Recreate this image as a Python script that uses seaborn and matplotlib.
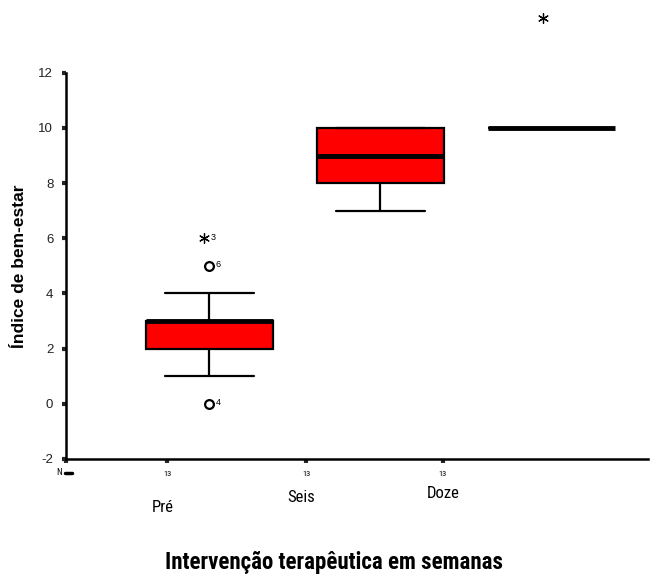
"""Boxplot do índice de bem-estar por momento da intervenção (réplica estilo SPSS)."""
import matplotlib
matplotlib.use("Agg")
import matplotlib.pyplot as plt
import numpy as np
import pandas as pd
import seaborn as sns
from matplotlib import font_manager

# --- dados (N = 13 por grupo) ---
GROUPS = ["Pré", "Seis", "Doze"]
PRE = [0, 1, 2, 2, 2, 3, 3, 3, 3, 3, 4, 5, 6]
SEIS = [7, 8, 8, 8, 9, 9, 9, 9, 10, 10, 10, 10, 10]
DOZE = [10, 10, 10, 10, 10, 10, 10, 10, 10, 10, 10, 10, 14]
N_LABELS = ["13", "13", "13"]

# outliers (circulo) e extremos (asterisco) com o nº do caso
OUT_GROUP = ["Pré", "Pré"]
OUT_VALUE = [5, 0]
OUT_CASE = ["6", "4"]
EXT_GROUP = ["Pré", "Doze"]
EXT_VALUE = [6, 14]
EXT_CASE = ["3", ""]

Y_TICKS = [-2, 0, 2, 4, 6, 8, 10, 12]


def narrow_font():
    """Procura uma fonte estreita; senão usa DejaVu Sans (condensada se existir)."""
    fonts = font_manager.fontManager.ttflist
    names = {f.name for f in fonts}
    for cand in ("Liberation Sans Narrow", "Arial Narrow", "Roboto Condensed",
                 "Open Sans Condensed"):
        if cand in names:
            return {"family": [cand, "DejaVu Sans"]}, 1.0
    if any(f.name == "DejaVu Sans" and f.stretch == "condensed" for f in fonts):
        return {"family": ["DejaVu Sans"], "fontstretch": "condensed"}, 0.95
    return {"family": ["DejaVu Sans"]}, 0.85


def main():
    df = pd.DataFrame({
        "semana": np.repeat(GROUPS, [len(PRE), len(SEIS), len(DOZE)]),
        "indice": PRE + SEIS + DOZE,
    })

    sns.set_theme(style="white")
    plt.rcParams["font.family"] = ["Liberation Sans", "DejaVu Sans"]
    plt.rcParams["text.color"] = "black"
    plt.rcParams["axes.labelcolor"] = "black"
    narrow, scale = narrow_font()

    fig = plt.figure(figsize=(6.51, 5.78), dpi=100)
    ax = fig.add_axes([0.101, 0.206, 0.895, 0.668])

    sns.boxplot(data=df, x="semana", y="indice", order=GROUPS, ax=ax,
                width=0.74, color="#ff0000", saturation=1, showfliers=False,
                whis=1.5, linecolor="black", linewidth=1.6,
                medianprops={"linewidth": 3.5, "color": "black"},
                capwidths=0.52)

    # outliers / extremos
    pos = {g: i for i, g in enumerate(GROUPS)}
    ox = [pos[g] for g in OUT_GROUP]
    ax.scatter(ox, OUT_VALUE, marker="o", s=40, facecolors="white",
               edgecolors="black", linewidths=1.6, zorder=5, clip_on=False)
    for x, y, c in zip(ox, OUT_VALUE, OUT_CASE):
        ax.text(x + 0.04, y + 0.05, c, fontsize=6.5, va="center", ha="left")
    ex = [pos[g] for g in EXT_GROUP]
    pts = ax.scatter(ex, EXT_VALUE, marker=(6, 2, 0), s=50, color="black",
                     linewidths=0.9, zorder=5, clip_on=False)
    for x, y, c in zip(ex, EXT_VALUE, EXT_CASE):
        ax.text(x + 0.01, y + 0.02, c, fontsize=6.5, va="center", ha="left")
    # o ponto de Doze fica um pouco ao lado, como no original
    pts.set_offsets(np.column_stack([[ex[0] - 0.03, ex[1] - 0.05], EXT_VALUE]))

    ax.set_ylim(-2, 12)
    ax.set_xlim(-0.837, 2.564)
    ax.set_yticks(Y_TICKS)
    ax.set_yticklabels([str(t) for t in Y_TICKS], fontsize=9.5, color="#222222")
    ax.tick_params(axis="y", direction="out", length=3, width=3, pad=6, left=True)

    # ticks do eixo x (desalinhados das caixas, como no SPSS)
    tick_x = [-0.837, -0.245, 0.566, 1.364]
    ax.set_xticks(tick_x)
    ax.set_xticklabels([""] * 4)
    ax.tick_params(axis="x", direction="out", length=3, width=3, bottom=True)
    ax.text(-0.878, -2.5, "N", fontsize=6.5, ha="center", va="center", **narrow)
    ax.plot([-0.84, -0.80], [-2.5, -2.5], color="black", lw=2.5, clip_on=False)
    for x, n in zip(tick_x[1:], N_LABELS):
        ax.text(x, -2.55, n, fontsize=6, ha="center", va="center", **narrow)

    cat_y = [-3.75, -3.4, -3.25]
    cat_x = [-0.27, 0.535, 1.364]
    for x, y, g in zip(cat_x, cat_y, GROUPS):
        ax.text(x, y, g, fontsize=12 * scale, ha="center", va="center", **narrow)

    ax.set_xlabel("")
    ax.set_ylabel("Índice de bem-estar", fontsize=12.5, fontweight="bold", labelpad=8)
    fig.text(0.513, 0.026, "Intervenção terapêutica em semanas",
             fontsize=16.5 * scale, fontweight="bold", ha="center", va="center",
             **narrow)

    for side in ("top", "right"):
        ax.spines[side].set_visible(False)
    for side in ("left", "bottom"):
        ax.spines[side].set_linewidth(1.8)
        ax.spines[side].set_color("black")

    fig.savefig("out.png", dpi=100)
    plt.close(fig)


if __name__ == "__main__":
    main()
